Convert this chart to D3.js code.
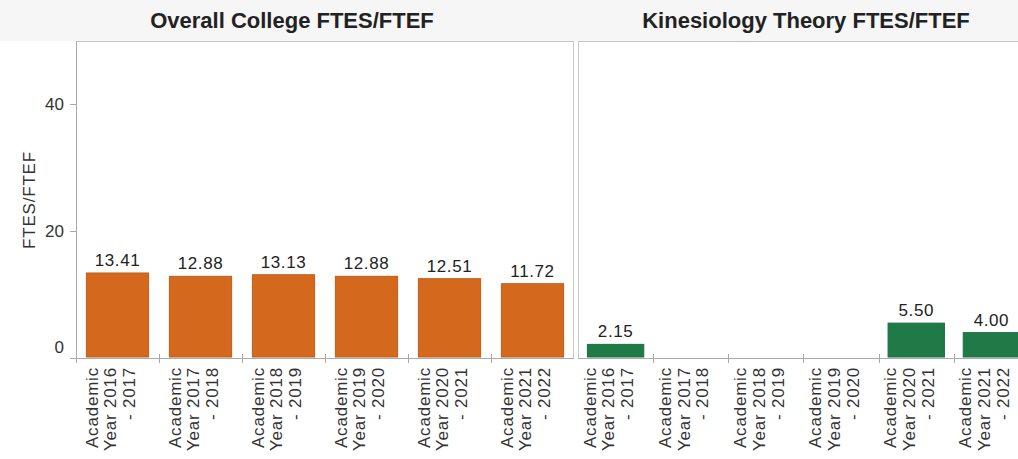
<!DOCTYPE html>
<html>
<head>
<meta charset="utf-8">
<script src="https://cdn.jsdelivr.net/npm/d3@7"></script>
<style>
  body { margin: 0; background: #fff; overflow: hidden; }
  text { font-family: "Liberation Sans", Arial, sans-serif; }
</style>
</head>
<body>
<div id="chart"></div>
<script>
var years = ["2016 - 2017", "2017 - 2018", "2018 - 2019", "2019 - 2020", "2020 - 2021", "2021 - 2022"];
var collegeValues = [13.41, 12.88, 13.13, 12.88, 12.51, 11.72];
var kinValues = [2.15, null, null, null, 5.50, 4.00];
var panelTitles = ["Overall College FTES/FTEF", "Kinesiology Theory FTES/FTEF"];
var panelColors = ["#d4691d", "#1f7a47"];
var yTicks = [0, 20, 40];

var width = 1018, height = 459;
var plotTop = 41, plotBottom = 358;

var svg = d3.select("#chart").append("svg")
    .attr("width", width)
    .attr("height", height);

// faint header band
svg.append("rect")
    .attr("x", 0).attr("y", 0)
    .attr("width", width).attr("height", plotTop)
    .attr("fill", "#f6f6f6");

var y = d3.scaleLinear()
    .domain([0, 50])
    .range([plotBottom, plotTop]);

var panels = [
    {x0: 76, x1: 574, titleX: 292, values: collegeValues},
    {x0: 578, x1: 1029, titleX: 806, values: kinValues}
];

panels.forEach(function(p, i) {
    var x = d3.scaleBand()
        .domain(years)
        .range([p.x0, p.x1])
        .paddingInner(0.25)
        .paddingOuter(0.125);

    var g = svg.append("g");

    g.append("rect")
        .attr("x", p.x0 + 0.5).attr("y", plotTop + 0.5)
        .attr("width", p.x1 - p.x0 - 1).attr("height", plotBottom - plotTop)
        .attr("fill", "#fff")
        .attr("stroke", "#c8c8c8");

    g.append("text")
        .attr("x", p.titleX)
        .attr("y", 28)
        .attr("text-anchor", "middle")
        .attr("font-size", 22)
        .attr("font-weight", "bold")
        .attr("fill", "#222")
        .text(panelTitles[i]);

    var data = years.map(function(d, j) { return {year: d, v: p.values[j]}; })
        .filter(function(d) { return d.v != null; });

    g.selectAll(".bar")
        .data(data)
        .enter().append("rect")
        .attr("class", "bar")
        .attr("x", function(d) { return x(d.year); })
        .attr("y", function(d) { return y(d.v); })
        .attr("width", x.bandwidth())
        .attr("height", function(d) { return y(0) - y(d.v) - 1; })
        .attr("fill", panelColors[i])
        .attr("stroke", d3.color(panelColors[i]).darker(0.3))
        .attr("stroke-width", 1);

    g.selectAll(".lbl")
        .data(data)
        .enter().append("text")
        .attr("x", function(d) { return x(d.year) + x.bandwidth() / 2; })
        .attr("y", function(d) { return y(d.v) - 7; })
        .attr("text-anchor", "middle")
        .attr("font-size", 17)
        .attr("letter-spacing", 0.6)
        .attr("fill", "#222")
        .text(function(d) { return d.v.toFixed(2); });

    // bottom axis line with ticks between bands
    g.append("line")
        .attr("x1", p.x0).attr("x2", p.x1)
        .attr("y1", plotBottom + 0.5).attr("y2", plotBottom + 0.5)
        .attr("stroke", "#aaa");
    years.forEach(function(d, j) {
        if (j == 0) return;
        var tx = x(d) - x.step() * x.paddingInner() / 2;
        g.append("line")
            .attr("x1", Math.round(tx) + 0.5).attr("x2", Math.round(tx) + 0.5)
            .attr("y1", plotBottom - 4).attr("y2", plotBottom + 5)
            .attr("stroke", "#aaa");
    });

    // rotated category labels
    years.forEach(function(d) {
        var cx = x(d) + x.bandwidth() / 2;
        var parts = d.split(" - ");
        var lines = ["Academic", "Year " + parts[0], "- " + parts[1]];
        lines.forEach(function(t, k) {
            g.append("text")
                .attr("transform", "translate(" + (cx - 20 + k * 18.8) + "," + (plotBottom + 9) + ") rotate(-90)")
                .attr("text-anchor", "end")
                .attr("font-size", 17)
                .attr("letter-spacing", 0.8)
                .attr("fill", "#333")
                .text(t);
        });
    });
});

// y axis
var yAxis = svg.append("g");
yAxis.append("line")
    .attr("x1", 76.5).attr("x2", 76.5)
    .attr("y1", plotTop).attr("y2", plotBottom + 5)
    .attr("stroke", "#aaa");
yTicks.forEach(function(t) {
    yAxis.append("line")
        .attr("x1", 70).attr("x2", 77)
        .attr("y1", Math.round(y(t)) + 0.5).attr("y2", Math.round(y(t)) + 0.5)
        .attr("stroke", "#aaa");
    yAxis.append("text")
        .attr("x", 64)
        .attr("y", y(t) + (t == 0 ? -5 : 6))
        .attr("text-anchor", "end")
        .attr("font-size", 17)
        .attr("fill", "#333")
        .text(t);
});
yAxis.append("text")
    .attr("transform", "translate(35," + 200 + ") rotate(-90)")
    .attr("text-anchor", "middle")
    .attr("font-size", 17)
    .attr("letter-spacing", 0.8)
    .attr("fill", "#333")
    .text("FTES/FTEF");
</script>
</body>
</html>
